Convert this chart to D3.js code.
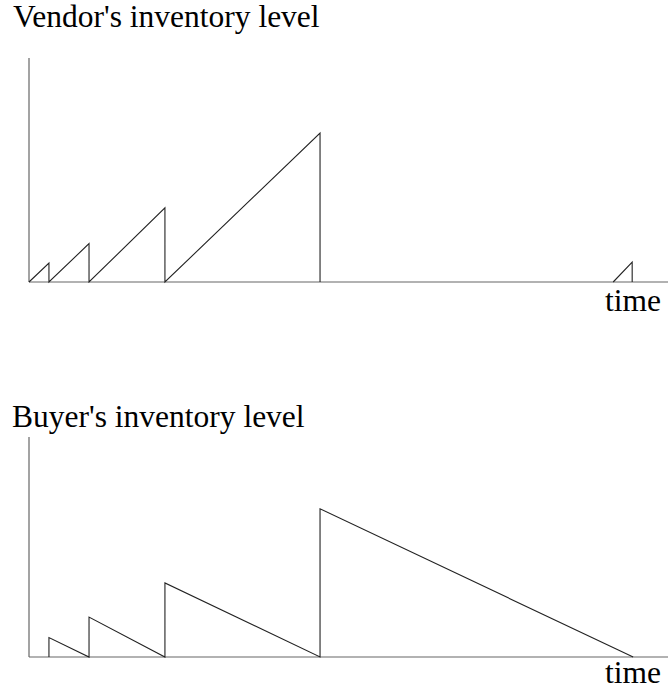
<!DOCTYPE html>
<html>
<head>
<meta charset="utf-8">
<script src="https://cdn.jsdelivr.net/npm/d3@7"></script>
<style>
  html, body { margin: 0; padding: 0; background: #fff; }
  svg { display: block; }
  text { font-family: "Liberation Serif", "Times New Roman", serif; fill: #000; }
</style>
</head>
<body>
<svg id="chart" width="668" height="692"></svg>
<script>
// ---- data (time units, inventory units) ----
const vendorTimes  = [0, 1.03, 1.03, 3.10, 3.10, 7.02, 7.02, 15.03, 15.03];
const vendorLevels = [0, 1.00, 0,    2.02, 0,    3.90, 0,    7.84,  0];
const vendorLateTimes  = [30.17, 31.15, 31.15];
const vendorLateLevels = [0,     1.04,  0];
const buyerTimes  = [1.03, 1.03, 3.10, 3.10, 7.02, 7.02, 15.03, 15.03, 31.2];
const buyerLevels = [0,    1.02, 0,    2.10, 0,    3.90, 0,     7.80,  0];
const titles = ["Vendor's inventory level", "Buyer's inventory level"];
const axisLabel = "time";

const svg = d3.select("#chart");

const x = d3.scaleLinear().domain([0, 33]).range([29, 668]);
const yTop = d3.scaleLinear().domain([0, 11.79]).range([282, 58]);
const yBot = d3.scaleLinear().domain([0, 11.58]).range([657, 437]);

function zip(ts, ls) { return ts.map((t, i) => [t, ls[i]]); }

function panel(y, series, title, titlePos, labelPos) {
  const g = svg.append("g");
  // axes
  g.append("line")
    .attr("x1", x(0)).attr("x2", x(33))
    .attr("y1", y(0)).attr("y2", y(0))
    .attr("stroke", "#666").attr("stroke-width", 1.2);
  g.append("line")
    .attr("x1", x(0)).attr("x2", x(0))
    .attr("y1", y(0)).attr("y2", y(y.domain()[1]))
    .attr("stroke", "#666").attr("stroke-width", 1.2);
  const line = d3.line().x(d => x(d[0])).y(d => y(d[1]));
  series.forEach(s => {
    g.append("path").attr("d", line(s))
      .attr("fill", "none").attr("stroke", "#222").attr("stroke-width", 1.1);
  });
  g.append("text").attr("x", titlePos[0]).attr("y", titlePos[1])
    .attr("font-size", 31.5).text(title);
  g.append("text").attr("x", labelPos[0]).attr("y", labelPos[1])
    .attr("font-size", 31.5).text(axisLabel);
}

panel(yTop, [zip(vendorTimes, vendorLevels), zip(vendorLateTimes, vendorLateLevels)],
      titles[0], [13, 27], [605, 311]);
panel(yBot, [zip(buyerTimes, buyerLevels)],
      titles[1], [12, 427], [605, 683]);
</script>
</body>
</html>
